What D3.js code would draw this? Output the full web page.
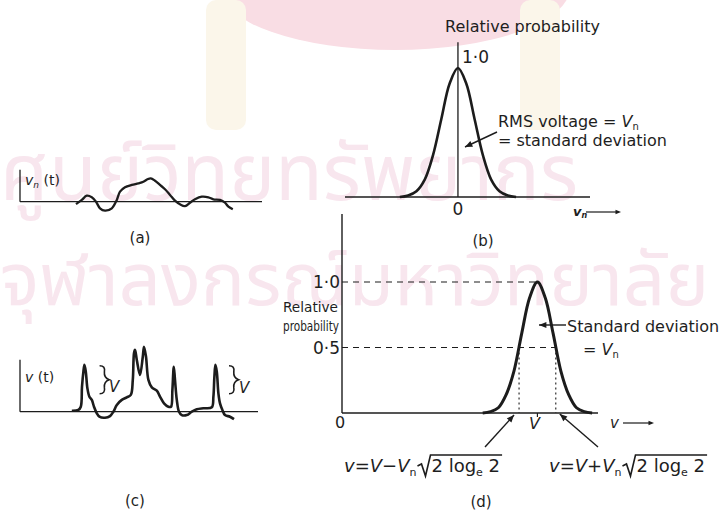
<!DOCTYPE html>
<html><head><meta charset="utf-8">
<script src="https://cdn.jsdelivr.net/npm/d3@7"></script>
<style>
html,body{margin:0;padding:0;background:#fff;}
svg text{font-family:"DejaVu Sans",sans-serif;fill:#1e1e1e;}
</style></head>
<body>
<svg id="chart" width="721" height="511"></svg>
<script>
// ---------- DATA ----------
// (a) noise voltage vn(t)
const tA  = [0.80,1.09,1.34,1.59,1.80,2.00,2.25,2.59,2.84,3.00,3.25,3.59,3.92,4.17,4.37,4.54,4.75,5.00,5.25,5.50,5.75,6.00,6.25,6.50,6.75,7.09,7.42,7.67,8.00,8.25,8.42,8.64];
const vnA = [-0.12,0.09,0.30,0.22,0.00,-0.33,-0.45,-0.33,0.09,0.50,0.72,0.84,0.92,1.00,1.12,1.17,1.05,0.84,0.62,0.34,0.05,-0.13,-0.22,-0.05,0.12,0.25,0.22,0.12,0.09,-0.05,-0.25,-0.38];
// (c) signal + noise v(t)
const tC = [0.59,0.92,1.04,1.10,1.17,1.22,1.29,1.37,1.47,1.59,1.70,1.84,1.97,2.25,2.50,2.67,2.84,3.09,3.34,3.54,3.64,3.70,3.75,3.84,4.00,4.14,4.20,4.30,4.42,4.59,4.84,5.00,5.20,5.42,5.55,5.62,5.69,5.75,5.84,5.95,6.09,6.34,6.59,6.84,7.17,7.59,7.67,7.72,7.77,7.84,7.92,8.00,8.12,8.25,8.50,8.70];
const vC = [0.05,0.09,0.25,1.25,2.00,2.34,2.00,1.17,0.75,0.59,0.25,-0.08,-0.25,-0.30,-0.22,0.00,0.34,0.59,0.72,0.84,1.59,2.92,3.09,2.59,1.84,2.75,3.25,2.75,1.59,1.22,1.05,0.75,0.42,0.25,0.25,1.09,2.25,1.59,0.59,0.00,-0.17,-0.17,0.00,0.12,0.17,0.22,0.75,1.75,2.34,2.00,0.92,0.42,0.09,-0.17,-0.25,-0.37];
// (b) relative probability of noise voltage (vn in units of Vn)
const vnB = [-3.5,-3.0,-2.5,-2.0,-1.5,-1.0,-0.5,0,0.5,1.0,1.5,2.0,2.5,3.0,3.5];
const pB  = [0,0.012,0.045,0.135,0.325,0.605,0.88,1,0.88,0.605,0.325,0.135,0.045,0.012,0];
// (d) relative probability of signal + noise (V = 10)
const vD = [7.2,7.6,8.0,8.4,8.8,9.2,9.6,10,10.4,10.8,11.2,11.6,12.0,12.4,12.8];
const pD = [0,0.01,0.04,0.14,0.32,0.61,0.88,1,0.88,0.61,0.32,0.14,0.04,0.01,0];
const V_D = 10;
const halfPointsD = [9.06, 10.94];   // v = V ∓ Vn·sqrt(2 ln 2)
const tickLabelsD = ["1·0","0·5"];
const tickValuesD = [1.0, 0.5];
const panelLabels = ["(a)","(b)","(c)","(d)"];

// ---------- DRAW ----------
const svg = d3.select("#chart");
const ink = "#1c1c1c";

// watermark (scan background)
const wm = svg.append("g");
wm.append("ellipse").attr("cx",395).attr("cy",-12).attr("rx",175).attr("ry",62).attr("fill","#f9dde4");
wm.append("rect").attr("x",206).attr("y",0).attr("width",40).attr("height",130).attr("rx",10).attr("fill","#fbf6ea");
wm.append("rect").attr("x",520).attr("y",0).attr("width",40).attr("height",130).attr("rx",10).attr("fill","#fbf6ea");
wm.append("text").attr("x",0).attr("y",200).style("font-size","78px").style("fill","#f8e6ee")
  .style("font-family","'Noto Sans Thai','Noto Sans',sans-serif").text("ศูนย์วิทยทรัพยากร");
wm.append("text").attr("x",0).attr("y",305).style("font-size","74px").style("fill","#f8e6ee")
  .style("font-family","'Noto Sans Thai','Noto Sans',sans-serif").text("จุฬาลงกรณ์มหาวิทยาลัย");

function arrowHead(g, x, y, angle, size=7){
  const a = angle*Math.PI/180;
  const p1 = [x - size*Math.cos(a-0.4), y - size*Math.sin(a-0.4)];
  const p2 = [x - size*Math.cos(a+0.4), y - size*Math.sin(a+0.4)];
  g.append("path").attr("d",`M${x},${y}L${p1}L${p2}Z`).attr("fill",ink);
}
function pointer(g, x1,y1,x2,y2){
  g.append("line").attr("x1",x1).attr("y1",y1).attr("x2",x2).attr("y2",y2).attr("stroke",ink).attr("stroke-width",1.4);
  const ang = Math.atan2(y2-y1,x2-x1)*180/Math.PI;
  arrowHead(g,x2,y2,ang,8);
}
function brace(g, x, y1, y2, w=6){
  const m=(y1+y2)/2;
  g.append("path").attr("d",
    `M${x},${y1} Q${x+w},${y1} ${x+w*0.8},${y1+ (m-y1)*0.45} Q${x+w*0.7},${m-2} ${x+w*1.6},${m}
     Q${x+w*0.7},${m+2} ${x+w*0.8},${y2-(y2-m)*0.45} Q${x+w},${y2} ${x},${y2}`)
    .attr("fill","none").attr("stroke",ink).attr("stroke-width",1.6);
}

// ---- panel (a) ----
const gA = svg.append("g");
const axisXA = 20;
const xA = d3.scaleLinear().domain([(axisXA-60)/20, (262-60)/20]).range([axisXA,262]);
const yA = d3.scaleLinear().domain([-1,1]).range([221.7,181.7]);
gA.append("line").attr("x1",xA.range()[0]).attr("x2",xA.range()[1]).attr("y1",yA(0)).attr("y2",yA(0)).attr("stroke",ink).attr("stroke-width",1.3);
gA.append("line").attr("x1",axisXA).attr("x2",axisXA).attr("y1",yA(1.6)).attr("y2",yA(0)).attr("stroke",ink).attr("stroke-width",1.3);
gA.append("path").datum(d3.zip(tA,vnA)).attr("fill","none").attr("stroke",ink).attr("stroke-width",2.3)
  .attr("stroke-linejoin","round").attr("d",d3.line().x(d=>xA(d[0])).y(d=>yA(d[1])).curve(d3.curveCatmullRom));
const labA = gA.append("text").attr("x",axisXA+5).attr("y",yA(0.85)).style("font-size","14px").style("font-style","italic");
labA.append("tspan").text("v");
labA.append("tspan").attr("dy",3).style("font-size","9px").text("n");
labA.append("tspan").attr("dy",-3).style("font-style","normal").text(" (t)");
gA.append("text").attr("x",140).attr("y",243).attr("text-anchor","middle").style("font-size","15px").text(panelLabels[0]);

// ---- panel (c) ----
const gC = svg.append("g");
const axisXC = 20;
const xC = d3.scaleLinear().domain([(axisXC-60)/20,(258-60)/20]).range([axisXC,258]);
const yC = d3.scaleLinear().domain([0,1]).range([411.7,391.7]);
gC.append("line").attr("x1",xC.range()[0]).attr("x2",xC.range()[1]).attr("y1",yC(0)).attr("y2",yC(0)).attr("stroke",ink).attr("stroke-width",1.3);
gC.append("line").attr("x1",axisXC).attr("x2",axisXC).attr("y1",yC(2.6)).attr("y2",yC(0)).attr("stroke",ink).attr("stroke-width",1.3);
gC.append("path").datum(d3.zip(tC,vC)).attr("fill","none").attr("stroke",ink).attr("stroke-width",2.6)
  .attr("stroke-linejoin","round").attr("d",d3.line().x(d=>xC(d[0])).y(d=>yC(d[1])).curve(d3.curveCatmullRom.alpha(0.5)));
const labC = gC.append("text").attr("x",axisXC+5).attr("y",yC(1.5)).style("font-size","14px").style("font-style","italic");
labC.append("tspan").text("v");
labC.append("tspan").style("font-style","normal").text(" (t)");
brace(gC, xC(1.98), yC(2.3), yC(0.9));
brace(gC, xC(8.45), yC(2.3), yC(0.9));
gC.append("text").attr("x",xC(2.45)).attr("y",yC(1.0)).style("font-size","15px").style("font-style","italic").text("V");
gC.append("text").attr("x",xC(8.95)).attr("y",yC(0.95)).style("font-size","15px").style("font-style","italic").text("V");
gC.append("text").attr("x",135).attr("y",506).attr("text-anchor","middle").style("font-size","15px").text(panelLabels[2]);

// ---- panel (b) ----
const gB = svg.append("g");
const xB = d3.scaleLinear().domain([-6.8,7.95]).range([345,590]);
const yB = d3.scaleLinear().domain([0,1]).range([197,68]);
gB.append("line").attr("x1",345).attr("x2",590).attr("y1",yB(0)).attr("y2",yB(0)).attr("stroke",ink).attr("stroke-width",1.4);
gB.append("line").attr("x1",xB(0)).attr("x2",xB(0)).attr("y1",yB(1.2)).attr("y2",yB(0)).attr("stroke",ink).attr("stroke-width",1.3);
gB.append("path").datum(d3.zip(vnB,pB)).attr("fill","none").attr("stroke",ink).attr("stroke-width",2.6)
  .attr("d",d3.line().x(d=>xB(d[0])).y(d=>yB(d[1])).curve(d3.curveCatmullRom));
gB.append("text").attr("x",445).attr("y",32).style("font-size","16px").text("Relative probability");
gB.append("text").attr("x",xB(0)+4).attr("y",63).style("font-size","17px").text("1·0");
gB.append("text").attr("x",xB(0)).attr("y",215).attr("text-anchor","middle").style("font-size","17px").text("0");
const lbB = gB.append("text").attr("x",573).attr("y",216).style("font-size","13px").style("font-style","italic").style("font-weight","bold");
lbB.append("tspan").text("v"); lbB.append("tspan").attr("dy",2).style("font-size","8px").text("n");
gB.append("line").attr("x1",586).attr("x2",618).attr("y1",212).attr("y2",212).attr("stroke",ink).attr("stroke-width",1.2);
arrowHead(gB,621,212,0,6);
const r1 = gB.append("text").attr("x",498).attr("y",127).style("font-size","16px");
r1.append("tspan").text("RMS voltage = ");
r1.append("tspan").style("font-style","italic").text("V");
r1.append("tspan").attr("dy",3).style("font-size","10px").text("n");
gB.append("text").attr("x",498).attr("y",146).style("font-size","16px").text("= standard deviation");
pointer(gB, 497,132, 465,147);
gB.append("text").attr("x",483).attr("y",246).attr("text-anchor","middle").style("font-size","15px").text(panelLabels[1]);

// ---- panel (d) ----
const gD = svg.append("g");
const xD = d3.scaleLinear().domain([0,13.1]).range([342,598]);
const yD = d3.scaleLinear().domain([0,1]).range([413,282]);
gD.append("line").attr("x1",xD(0)).attr("x2",xD(13.1)).attr("y1",yD(0)).attr("y2",yD(0)).attr("stroke",ink).attr("stroke-width",1.4);
gD.append("line").attr("x1",xD(0)).attr("x2",xD(0)).attr("y1",yD(1.52)).attr("y2",yD(0)).attr("stroke",ink).attr("stroke-width",1.4);
gD.append("line").attr("x1",xD(0)).attr("x2",xD(V_D)).attr("y1",yD(1)).attr("y2",yD(1))
  .attr("stroke",ink).attr("stroke-width",1.1).attr("stroke-dasharray","6,5");
gD.append("line").attr("x1",xD(0)).attr("x2",xD(halfPointsD[1])).attr("y1",yD(0.5)).attr("y2",yD(0.5))
  .attr("stroke",ink).attr("stroke-width",1.1).attr("stroke-dasharray","6,5");
halfPointsD.forEach(h=>{
  gD.append("line").attr("x1",xD(h)).attr("x2",xD(h)).attr("y1",yD(0.5)).attr("y2",yD(0))
    .attr("stroke",ink).attr("stroke-width",1.1).attr("stroke-dasharray","2,3");
});
gD.append("path").datum(d3.zip(vD,pD)).attr("fill","none").attr("stroke",ink).attr("stroke-width",3)
  .attr("d",d3.line().x(d=>xD(d[0])).y(d=>yD(d[1])).curve(d3.curveCatmullRom));
gD.append("line").attr("x1",xD(V_D)).attr("x2",xD(V_D)).attr("y1",yD(0)).attr("y2",yD(0)+4).attr("stroke",ink).attr("stroke-width",1.2);
tickValuesD.forEach((v,i)=>{
  gD.append("text").attr("x",xD(0)-2).attr("y",yD(v)+6).attr("text-anchor","end").style("font-size","17px").text(tickLabelsD[i]);
});
gD.append("text").attr("x",283).attr("y",312).attr("textLength",55).attr("lengthAdjust","spacingAndGlyphs").style("font-size","14px").text("Relative");
gD.append("text").attr("x",283).attr("y",331).attr("textLength",56).attr("lengthAdjust","spacingAndGlyphs").style("font-size","14px").text("probability");
gD.append("text").attr("x",xD(0)-2).attr("y",428).attr("text-anchor","middle").style("font-size","16px").text("0");
gD.append("text").attr("x",xD(V_D)-3).attr("y",429).attr("text-anchor","middle").style("font-size","16px").style("font-style","italic").text("V");
gD.append("text").attr("x",610).attr("y",428).style("font-size","15px").style("font-style","italic").text("v");
gD.append("line").attr("x1",623).attr("x2",650).attr("y1",423).attr("y2",423).attr("stroke",ink).attr("stroke-width",1.2);
arrowHead(gD,654,423,0,6);
gD.append("text").attr("x",567).attr("y",332).style("font-size","16px").text("Standard deviation");
const sd = gD.append("text").attr("x",583).attr("y",355).style("font-size","16px");
sd.append("tspan").text("= "); sd.append("tspan").style("font-style","italic").text("V");
sd.append("tspan").attr("dy",3).style("font-size","10px").text("n");
pointer(gD, 566,325, 539,325);
pointer(gD, 485,447, xD(halfPointsD[0])-5,415);
pointer(gD, 598,447, xD(halfPointsD[1])+4,414);

function formula(g, x, y, sign){
  const t1 = g.append("text").attr("x",x).attr("y",y).style("font-size","18px");
  t1.append("tspan").style("font-style","italic").text("v");
  t1.append("tspan").text("=");
  t1.append("tspan").style("font-style","italic").text("V");
  t1.append("tspan").text(sign);
  t1.append("tspan").style("font-style","italic").text("V");
  t1.append("tspan").attr("dy",4).style("font-size","11px").text("n");
  const w1 = t1.node().getComputedTextLength();
  const rx = x + w1 + 1;
  const t2 = g.append("text").attr("x",rx+14).attr("y",y).style("font-size","18px");
  t2.append("tspan").text("2 log");
  t2.append("tspan").attr("dy",4).style("font-size","11px").text("e");
  t2.append("tspan").attr("dy",-4).text(" 2");
  const w2 = t2.node().getComputedTextLength();
  g.append("path").attr("d",`M${rx},${y-6} L${rx+4},${y-8} L${rx+8},${y+4} L${rx+13},${y-17} L${rx+16+w2},${y-17}`)
    .attr("fill","none").attr("stroke",ink).attr("stroke-width",1.6);
}
formula(gD, 344, 472, "−");
formula(gD, 549, 472, "+");
gD.append("text").attr("x",481).attr("y",507).attr("text-anchor","middle").style("font-size","15px").text(panelLabels[3]);
</script>
</body></html>
